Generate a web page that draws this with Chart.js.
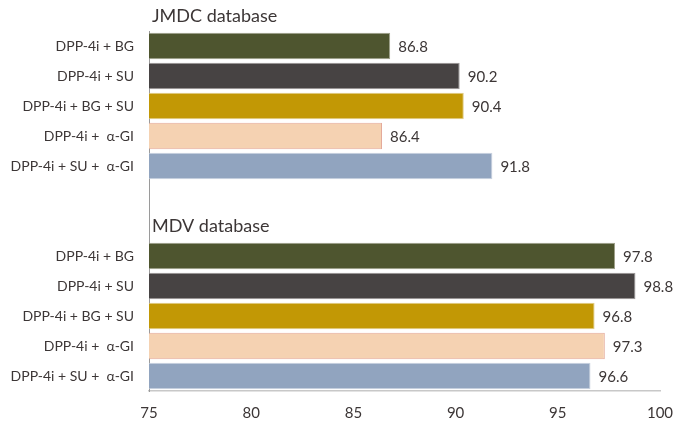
<!DOCTYPE html>
<html>
<head>
<meta charset="utf-8">
<script src="https://cdn.jsdelivr.net/npm/chart.js@4/dist/chart.umd.min.js"></script>
<style>
  body { margin: 0; background: #fff; }
  #wrap { width: 688px; height: 422px; }
</style>
</head>
<body>
<div id="wrap"><canvas id="chart"></canvas></div>
<script>
const combos = ['DPP-4i + BG', 'DPP-4i + SU', 'DPP-4i + BG + SU', 'DPP-4i +  \u03b1-GI', 'DPP-4i + SU +  \u03b1-GI'];
const jmdcValues = [86.8, 90.2, 90.4, 86.4, 91.8];
const mdvValues = [97.8, 98.8, 96.8, 97.3, 96.6];
const groupTitles = ['JMDC database', 'MDV database'];
const xTicks = [75, 80, 85, 90, 95, 100];

const fills = ['#4e552f', '#474343', '#c29805', '#f5d2b2', '#91a4bf'];
const edges = ['#9ea08a', '#9b9797', '#e0cc85', '#e4a99a', '#c9d2df'];
const textColor = '#3c3636';
const font = 'Lato, "Open Sans", sans-serif';

// two blank rows separate the groups; the second one carries the MDV heading
const labels = [...combos, '', '', ...combos];
const values = [...jmdcValues, null, null, ...mdvValues];
const barColors = [...fills, 'transparent', 'transparent', ...fills];
const barEdges = [...edges, 'transparent', 'transparent', ...edges];

const annotate = {
  id: 'annotate',
  afterDatasetsDraw(chart) {
    const ctx = chart.ctx;
    const y = chart.scales.y;
    const x = chart.scales.x;
    ctx.save();
    ctx.fillStyle = textColor;
    ctx.textBaseline = 'middle';
    ctx.textAlign = 'left';
    ctx.font = '15px ' + font;
    chart.getDatasetMeta(0).data.forEach((bar, i) => {
      if (values[i] == null) return;
      ctx.fillText(values[i].toFixed(1), bar.x + 8, bar.y + 1);
    });
    const pitch = y.getPixelForValue(1) - y.getPixelForValue(0);
    ctx.font = '18px ' + font;
    ctx.fillText(groupTitles[0], x.left + 3, y.getPixelForValue(0) - pitch);
    ctx.fillText(groupTitles[1], x.left + 3, y.getPixelForValue(combos.length + 1));
    ctx.restore();
  }
};

new Chart(document.getElementById('chart'), {
  type: 'bar',
  data: {
    labels: labels,
    datasets: [{
      data: values,
      base: 75,
      backgroundColor: barColors,
      borderColor: barEdges,
      borderWidth: 1,
      borderSkipped: 'left',
      categoryPercentage: 1,
      barPercentage: 0.88
    }]
  },
  options: {
    indexAxis: 'y',
    responsive: true,
    maintainAspectRatio: false,
    animation: false,
    layout: { padding: { top: 31, right: 28, bottom: 0, left: 0 } },
    plugins: { legend: { display: false }, tooltip: { enabled: false } },
    scales: {
      x: {
        min: 75,
        max: 100,
        afterBuildTicks: s => { s.ticks = xTicks.map(v => ({ value: v })); },
        afterFit: s => { s.height = 31; },
        grid: { display: false, drawTicks: false },
        border: { display: true, color: '#c8c8c8', width: 1.5 },
        ticks: { color: textColor, font: { family: font, size: 15 }, padding: 13, maxRotation: 0 }
      },
      y: {
        afterFit: s => { s.width = 149; },
        grid: { display: false, drawTicks: false },
        border: { display: true, color: '#9a9a9a', width: 1 },
        ticks: { color: textColor, font: { family: font, size: 14 }, padding: 15, autoSkip: false }
      }
    }
  },
  plugins: [annotate]
});
</script>
</body>
</html>
